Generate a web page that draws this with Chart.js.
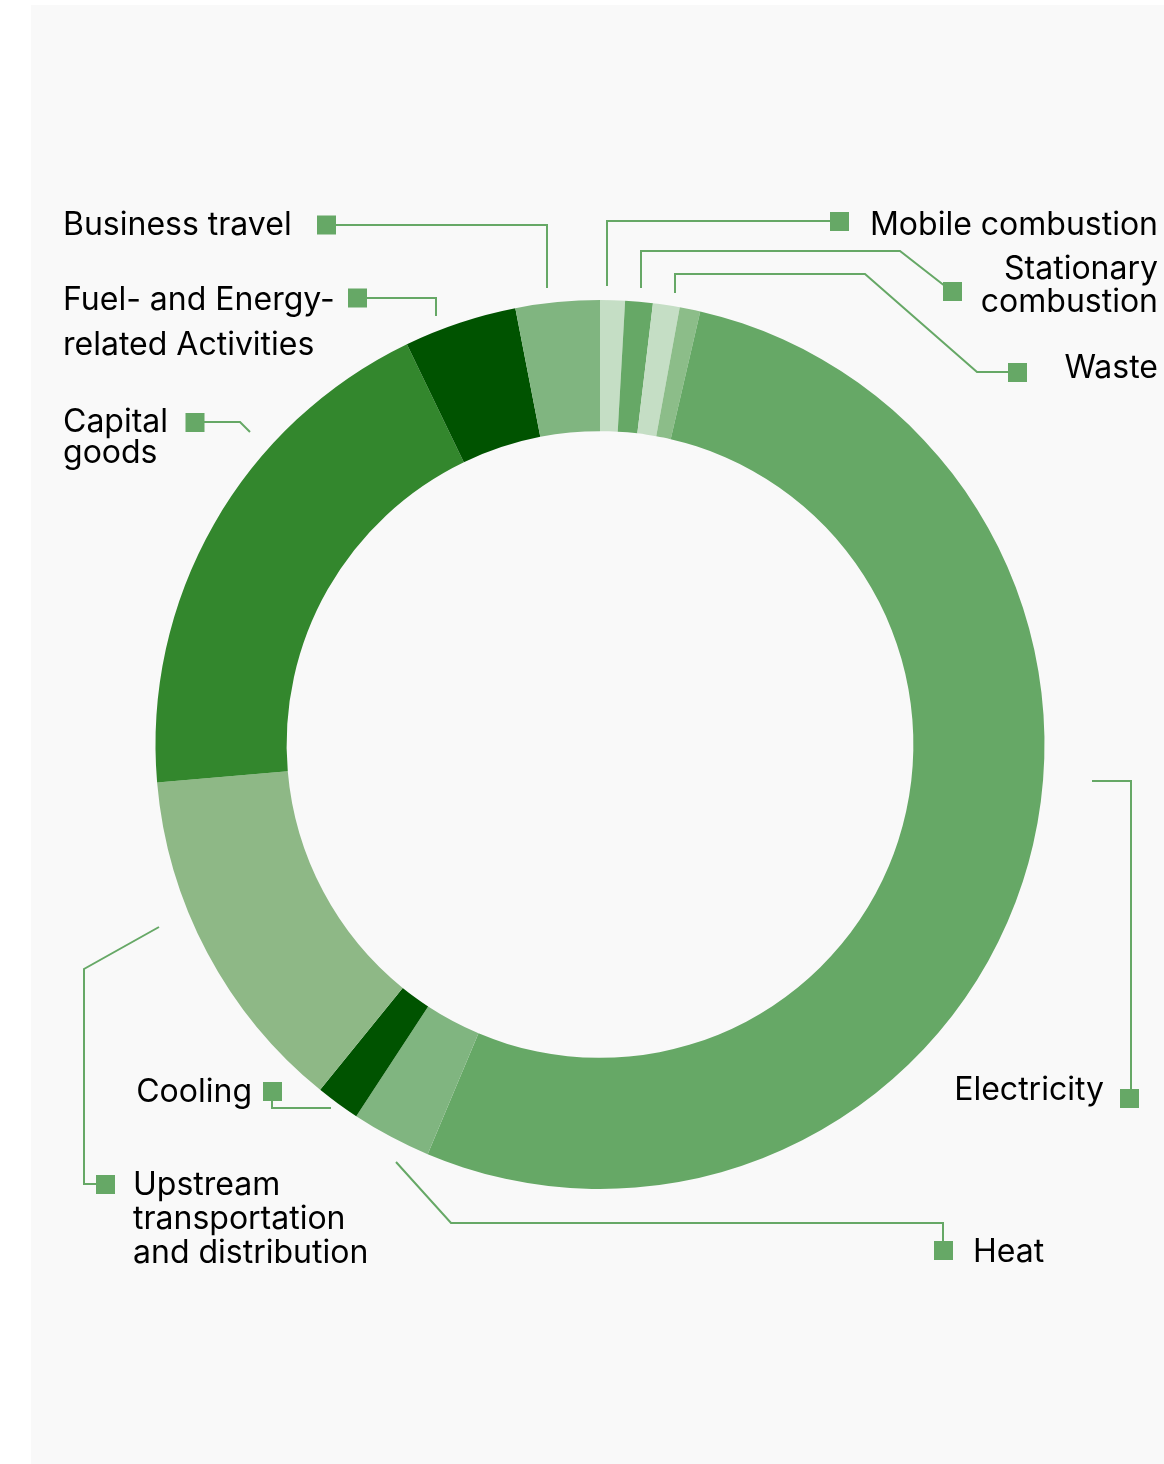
<!DOCTYPE html>
<html>
<head>
<meta charset="utf-8">
<script src="https://cdn.jsdelivr.net/npm/chart.js@4"></script>
<style>
  html, body { margin: 0; padding: 0; background: #ffffff; }
  canvas { display: block; }
</style>
</head>
<body>
<canvas id="myChart" width="1164" height="1464"></canvas>
<script>
// emission share per category, clockwise from 12 o'clock
const categorie = ['Mobile combustion', 'Stationary combustion', 'Waste', 'Other',
  'Electricity', 'Heat', 'Cooling', 'Upstream transportation and distribution',
  'Capital goods', 'Fuel- and Energy-related Activities', 'Business travel'];
const quote = [0.9, 1.0, 0.97, 0.75, 52.7, 2.9, 1.6, 12.8, 19.2, 4.1, 3.05];
const colori = ['#c5dec5', '#66a866', '#c5dec5', '#8cbd89', '#66a866', '#80b580',
  '#005300', '#8eb886', '#33872d', '#005300', '#80b580'];

const verde = '#66a866';
const FONT = '32px Inter';

// where each label sits: text lines, anchor, square marker and leader line
const etichette = {
  'Business travel': { righe: ['Business travel'], x: 63, y: [235], align: 'left',
    box: [326.5, 225], linea: [[547, 288], [547, 225], [326, 225]] },
  'Fuel- and Energy-related Activities': { righe: ['Fuel- and Energy-', 'related Activities'], x: 63, y: [310, 355], align: 'left',
    box: [357.5, 298], linea: [[436, 316], [436, 298], [357, 298]] },
  'Capital goods': { righe: ['Capital', 'goods'], x: 63, y: [432, 463], align: 'left',
    box: [195, 422.5], linea: [[250, 432], [240, 422], [195, 422]] },
  'Mobile combustion': { righe: ['Mobile combustion'], x: 1158, y: [235], align: 'right',
    box: [839.5, 221.5], linea: [[607, 286], [607, 221], [839, 221]] },
  'Stationary combustion': { righe: ['Stationary', 'combustion'], x: 1158, y: [279, 312], align: 'right',
    box: [952.5, 291.5], linea: [[641, 288], [641, 251], [900, 251], [950, 290]] },
  'Waste': { righe: ['Waste'], x: 1158, y: [378], align: 'right',
    box: [1017.5, 372.5], linea: [[675, 293], [675, 274], [865, 274], [977, 372], [1017, 372]] },
  'Electricity': { righe: ['Electricity'], x: 1104, y: [1100], align: 'right',
    box: [1129.5, 1098.5], linea: [[1092, 781], [1131, 781], [1131, 1098]] },
  'Heat': { righe: ['Heat'], x: 973, y: [1262], align: 'left',
    box: [943.5, 1250.5], linea: [[396, 1162], [451, 1223], [943, 1223], [943, 1250]] },
  'Cooling': { righe: ['Cooling'], x: 252, y: [1102], align: 'right',
    box: [272.5, 1091.5], linea: [[331, 1108], [272, 1108], [272, 1091]] },
  'Upstream transportation and distribution': { righe: ['Upstream', 'transportation', 'and distribution'], x: 133, y: [1195, 1229, 1263], align: 'left',
    box: [105.5, 1184.5], linea: [[159, 927], [84, 969], [84, 1184], [105, 1184]] }
};

const sfondo = {
  id: 'sfondo',
  beforeDraw(chart) {
    const c = chart.ctx;
    c.save();
    c.fillStyle = '#f9f9f9';
    c.fillRect(31, 5, chart.width - 31, chart.height - 5);
    c.restore();
  }
};

const didascalie = {
  id: 'didascalie',
  afterDraw(chart) {
    const c = chart.ctx;
    c.save();
    for (let i = 0; i < categorie.length; i++) {
      const e = etichette[categorie[i]];
      if (!e) continue;
      c.strokeStyle = verde;
      c.lineWidth = 2;
      c.lineJoin = 'miter';
      c.beginPath();
      c.moveTo(e.linea[0][0], e.linea[0][1]);
      for (let k = 1; k < e.linea.length; k++) c.lineTo(e.linea[k][0], e.linea[k][1]);
      c.stroke();
      c.fillStyle = verde;
      c.fillRect(e.box[0] - 9.5, e.box[1] - 9.5, 19, 19);
      c.fillStyle = '#000000';
      c.font = FONT;
      c.textAlign = e.align;
      c.textBaseline = 'alphabetic';
      for (let r = 0; r < e.righe.length; r++) c.fillText(e.righe[r], e.x, e.y[r]);
    }
    c.restore();
  }
};

new Chart(document.getElementById('myChart'), {
  type: 'doughnut',
  data: {
    labels: categorie,
    datasets: [{
      data: quote,
      backgroundColor: colori,
      borderWidth: 0
    }]
  },
  options: {
    responsive: false,
    animation: false,
    cutout: '70.5%',
    layout: { padding: { left: 155.5, right: 119.5, top: 300, bottom: 275 } },
    plugins: {
      legend: { display: false },
      tooltip: { enabled: false }
    }
  },
  plugins: [sfondo, didascalie]
});
</script>
</body>
</html>
